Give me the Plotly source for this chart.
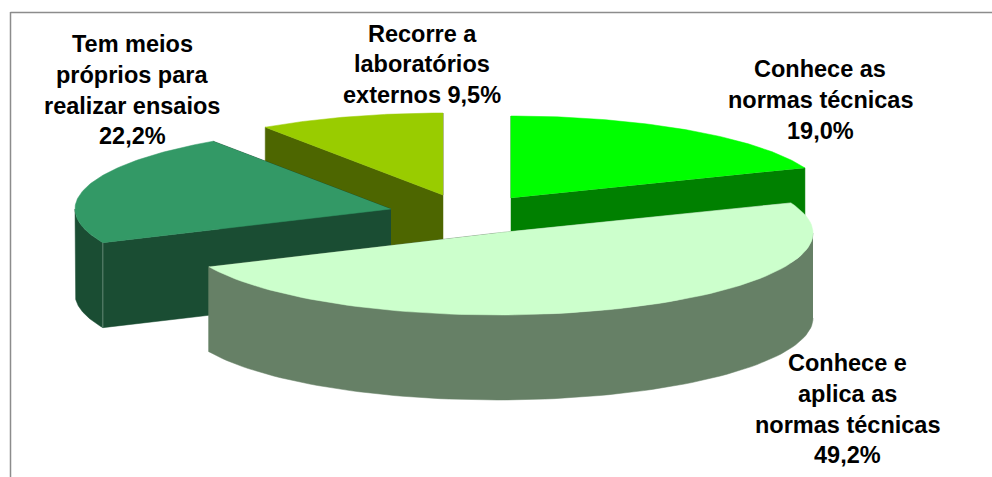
import math
import plotly.graph_objects as go

categories = ["Conhece as normas técnicas", "Conhece e aplica as normas técnicas",
              "Tem meios próprios para realizar ensaios", "Recorre a laboratórios externos"]
values = [19.0, 49.2, 22.2, 9.5]

top_colors = ["#00FF00", "#CCFFCC", "#339966", "#99CC00"]
side_colors = ["#008000", "#668066", "#1A4D33", "#4D6600"]

# Where each exploded slice's apex sits on the canvas (axes are in canvas pixels)
apex_x = [511, 497, 391, 443]
apex_y = [198, 233, 209, 195]
RX, RY, DEPTH = 316, 82, 85
draw_order = [3, 0, 2, 1]

label_lines = [
    ["Conhece as", "normas técnicas", "19,0%"],
    ["Conhece e", "aplica as", "normas técnicas", "49,2%"],
    ["Tem meios", "próprios para", "realizar ensaios", "22,2%"],
    ["Recorre a", "laboratórios", "externos 9,5%"],
]
label_x = [820, 847, 132, 422]
label_y0 = [69, 363, 44, 33.5]
LINE_H = 30.8
FONT_SIZE = 23.5

total = sum(values)
starts, acc = [], 0.0
for v in values:
    starts.append(acc / total * 2 * math.pi)
    acc += v


def arc(cx, cy, a0, a1, n=90):
    pts = [a0 + (a1 - a0) * i / n for i in range(n + 1)]
    return ([cx + RX * math.sin(t) for t in pts], [cy - RY * math.cos(t) for t in pts])


def poly(fig, xs, ys, color, name):
    fig.add_trace(go.Scatter(x=xs, y=ys, mode="lines", fill="toself", fillcolor=color,
                             line=dict(width=0.5, color=color), hoverinfo="skip",
                             showlegend=False, name=name))


fig = go.Figure()
for i in draw_order:
    a0 = starts[i]
    a1 = a0 + values[i] / total * 2 * math.pi
    cx, cy = apex_x[i], apex_y[i]
    ax, ay = arc(cx, cy, a0, a1)
    side, top, name = side_colors[i], top_colors[i], categories[i]

    # the two radial cut faces
    for k in (-1, 0):
        poly(fig, [cx, ax[k], ax[k], cx], [cy, ay[k], ay[k] + DEPTH, cy + DEPTH], side, name)
    # outer wall: only the part of the rim that faces the viewer
    w0, w1 = max(a0, math.pi / 2), min(a1, 3 * math.pi / 2)
    if w1 > w0:
        wx, wy = arc(cx, cy, w0, w1)
        poly(fig, wx + wx[::-1], wy + [y + DEPTH for y in wy[::-1]], side, name)
    # seam between wall and cut face
    if i == 2:
        fig.add_trace(go.Scatter(x=[ax[0], ax[0]], y=[ay[0], ay[0] + DEPTH], mode="lines",
                                 line=dict(width=1, color="#5F8572"), hoverinfo="skip", showlegend=False))
    poly(fig, [cx] + ax, [cy] + ay, top, name)

annotations = []
for lines, x, y0 in zip(label_lines, label_x, label_y0):
    for j, line in enumerate(lines):
        annotations.append(dict(x=x, y=y0 + j * LINE_H, xref="x", yref="y", text=line, showarrow=False,
                                xanchor="center", yanchor="middle",
                                font=dict(family="Liberation Sans", size=FONT_SIZE, color="#000000", weight="bold")))

FRAME = "#8C8C8C"
shapes = [
    dict(type="line", xref="x", yref="y", x0=10.5, x1=992, y0=12.5, y1=12.5, line=dict(color=FRAME, width=1.5)),
    dict(type="line", xref="x", yref="y", x0=10.5, x1=10.5, y0=12, y1=477, line=dict(color=FRAME, width=1.5)),
]

fig.update_layout(
    width=992, height=477, autosize=False,
    margin=dict(l=0, r=0, t=0, b=0),
    paper_bgcolor="white", plot_bgcolor="white",
    xaxis=dict(range=[0, 992], visible=False, fixedrange=True),
    yaxis=dict(range=[477, 0], visible=False, fixedrange=True),
    annotations=annotations, shapes=shapes,
)
fig.write_html("out.html", config={"displayModeBar": False},
               post_script="document.body.style.margin='0';document.body.style.overflow='hidden';")
